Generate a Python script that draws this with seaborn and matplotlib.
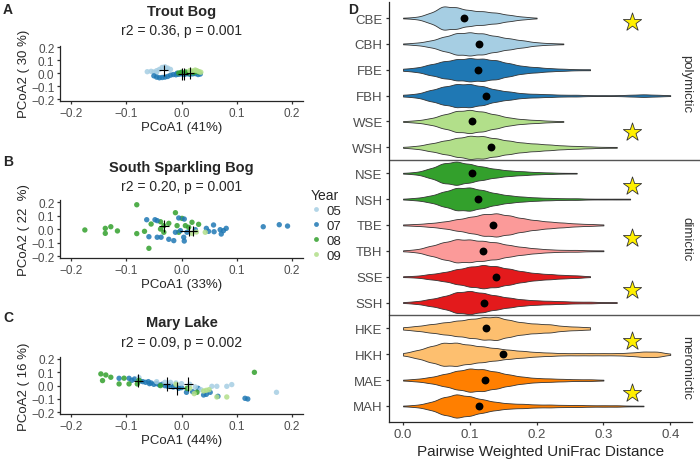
import numpy as np
import pandas as pd
import matplotlib
matplotlib.use("Agg")
import matplotlib.pyplot as plt
import seaborn as sns

# Data =====================================================================================
years = ["05", "07", "08", "09"]
year_colors = {"05": "#A6CEE3", "07": "#1F78B4", "08": "#33A02C", "09": "#B2DF8A"}

# A - Trout Bog PCoA
a_x = [-0.062, -0.055, -0.05, -0.045, -0.04, -0.035, -0.03, -0.025, -0.02, -0.028, -0.045,
       -0.05, -0.045, -0.04, -0.035, -0.03, -0.025, -0.02, -0.015, -0.01, -0.005, 0.0, 0.005,
       0.01, 0.015, 0.02, 0.025, 0.03, 0.034, -0.008, 0.0,
       0.0, 0.008, 0.012, 0.018, 0.022, 0.025, 0.03, -0.005,
       0.015, 0.02, 0.028, 0.032, 0.035, 0.025]
a_y = [0.012, 0.015, 0.01, 0.02, 0.03, 0.045, 0.05, 0.04, 0.03, 0.035, 0.005,
       -0.02, -0.03, -0.035, -0.033, -0.03, -0.025, -0.015, -0.01, -0.012, -0.008, -0.005, -0.01,
       -0.004, -0.008, -0.005, -0.003, -0.01, -0.006, 0.0, 0.005,
       0.008, 0.01, 0.003, 0.012, 0.005, 0.015, 0.01, 0.002,
       0.02, 0.018, 0.02, 0.012, 0.008, 0.025]
a_year = ["05"] * 11 + ["07"] * 20 + ["08"] * 8 + ["09"] * 6
a_cx = [-0.032, 0.001, 0.005, 0.016]
a_cy = [0.022, -0.004, -0.004, 0.0]
a_xerr = [0.008, 0.007, 0.007, 0.007]
a_yerr = [0.045, 0.045, 0.045, 0.045]

# B - South Sparkling Bog PCoA
b_x = [-0.081, -0.175, -0.138, -0.128, -0.138, -0.116, -0.081, -0.067, -0.059, -0.055, -0.038,
       -0.032, -0.023, -0.038, -0.032, -0.011, -0.008, 0.001, 0.007, 0.019, 0.031, -0.005, 0.013,
       -0.063, -0.048, -0.044, -0.059, -0.044, -0.037, -0.023, -0.014, -0.005, 0.005, -0.011,
       -0.002, 0.004, 0.005, 0.010, 0.025, 0.045, 0.049, 0.058, 0.059, 0.070, 0.072, 0.076,
       0.081, 0.148, 0.177, 0.192,
       0.043, 0.027, 0.019]
b_y = [0.182, -0.005, 0.007, 0.019, -0.03, -0.012, -0.032, -0.015, -0.141, 0.039, 0.056,
       0.027, 0.044, 0.002, -0.022, 0.123, 0.027, 0.081, 0.027, 0.052, 0.037, -0.022, 0.015,
       0.071, 0.071, 0.064, -0.055, -0.059, -0.059, -0.074, -0.084, 0.084, 0.076, -0.022,
       -0.01, -0.059, -0.087, -0.022, -0.003, 0.007, -0.015, 0.032, -0.018, -0.003, -0.035, -0.01,
       0.007, 0.019, 0.034, 0.024,
       -0.022, -0.02, -0.03]
b_year = ["08"] * 23 + ["07"] * 27 + ["09"] * 3
b_cx = [0.013, -0.032, 0.02]
b_cy = [-0.01, 0.025, -0.012]
b_xerr = [0.015, 0.009, 0.008]
b_yerr = [0.038, 0.043, 0.035]

# C - Mary Lake PCoA
c_x = [-0.113, -0.095, -0.09, -0.085, -0.075, -0.07, -0.065, -0.06, -0.058, -0.055, -0.05,
       -0.045, -0.04, -0.035, -0.03, -0.025, -0.02, -0.015, -0.01, 0.009, 0.02, 0.03, 0.04,
       0.045, 0.052, 0.066, 0.115, 0.12, -0.005, 0.0,
       -0.077, -0.045, -0.03, -0.02, -0.01, 0.0, 0.015, 0.025, 0.055, 0.064, 0.082, 0.091,
       0.172, 0.035,
       -0.146, -0.137, -0.128, -0.143, -0.113, -0.104, -0.095, -0.08, -0.077, 0.132, 0.01,
       0.028, -0.038,
       0.04, 0.045, 0.05, 0.023, 0.064, 0.082, -0.01, 0.015]
c_y = [0.055, 0.055, 0.04, 0.05, 0.035, 0.03, 0.025, 0.03, 0.015, 0.02, 0.01,
       0.015, 0.005, 0.01, 0.0, -0.005, 0.005, -0.01, -0.005, -0.05, -0.045, -0.02, -0.07,
       -0.065, -0.05, -0.08, -0.095, -0.1, -0.02, -0.015,
       0.06, 0.03, 0.025, 0.025, 0.02, 0.015, 0.01, -0.01, -0.005, -0.005, -0.005, 0.008,
       -0.05, -0.03,
       0.088, 0.08, 0.063, 0.038, 0.013, 0.056, 0.013, 0.013, 0.04, 0.1, -0.02,
       -0.05, 0.0,
       -0.04, -0.035, -0.03, -0.06, -0.085, -0.085, 0.01, -0.02]
c_year = ["07"] * 30 + ["05"] * 14 + ["08"] * 13 + ["09"] * 8
c_cx = [-0.078, -0.027, -0.009, 0.012]
c_cy = [0.038, 0.013, -0.02, 0.013]
c_xerr = [0.008, 0.007, 0.015, 0.008]
c_yerr = [0.05, 0.05, 0.05, 0.05]

# D - pairwise weighted UniFrac distances (counts per 0.02 bin)
sites = ["CBE", "CBH", "FBE", "FBH", "WSE", "WSH",
         "NSE", "NSH", "TBE", "TBH", "SSE", "SSH",
         "HKE", "HKH", "MAE", "MAH"]
mixing = ["polymictic", "dimictic", "meromictic"]
site_colors = {"CBE": "#A6CEE3", "CBH": "#A6CEE3", "FBE": "#1F78B4", "FBH": "#1F78B4",
               "WSE": "#B2DF8A", "WSH": "#B2DF8A", "NSE": "#33A02C", "NSH": "#33A02C",
               "TBE": "#FB9A99", "TBH": "#FB9A99", "SSE": "#E31A1C", "SSH": "#E31A1C",
               "HKE": "#FDBF6F", "HKH": "#FDBF6F", "MAE": "#FF7F00", "MAH": "#FF7F00"}
dist_bins = [0.00, 0.02, 0.04, 0.06, 0.08, 0.10, 0.12, 0.14, 0.16, 0.18, 0.20,
             0.22, 0.24, 0.26, 0.28, 0.30, 0.32, 0.34, 0.36, 0.38, 0.40, 0.42]
dist_counts = {
    "CBE": [1, 3, 14, 36, 32, 23, 20, 16, 9, 4, 1],
    "CBH": [1, 3, 8, 18, 28, 30, 27, 20, 14, 9, 4, 2, 1],
    "FBE": [2, 4, 10, 16, 20, 22, 21, 18, 12, 7, 5, 3, 2, 1, 1],
    "FBH": [2, 4, 12, 20, 26, 26, 21, 13, 9, 5, 4, 3, 2, 2, 1, 1, 1, 2, 3, 2, 1],
    "WSE": [1, 3, 8, 18, 28, 31, 26, 18, 10, 6, 4, 2, 1],
    "WSH": [1, 3, 8, 14, 20, 25, 24, 19, 14, 10, 8, 6, 4, 3, 2, 1, 1],
    "NSE": [1, 3, 12, 26, 31, 24, 17, 11, 7, 5, 3, 2, 1, 1],
    "NSH": [1, 3, 8, 18, 28, 29, 22, 14, 9, 6, 4, 3, 2, 2, 1, 1, 1, 1],
    "TBE": [1, 2, 4, 7, 12, 17, 23, 25, 20, 14, 10, 7, 5, 3, 2, 1],
    "TBH": [1, 3, 10, 18, 25, 24, 21, 18, 12, 8, 5, 3, 2, 2, 1, 1],
    "SSE": [1, 2, 6, 10, 17, 23, 27, 24, 18, 12, 8, 6, 4, 3, 1],
    "SSH": [1, 3, 8, 14, 24, 27, 22, 16, 11, 7, 5, 4, 3, 2, 2, 1, 1],
    "HKE": [2, 4, 7, 10, 13, 16, 19, 20, 14, 10, 8, 7, 4, 3, 2],
    "HKH": [2, 7, 14, 21, 21, 17, 14, 11, 8, 6, 4, 3, 2, 2, 2, 2, 2, 3, 5, 5, 1],
    "MAE": [1, 3, 7, 14, 22, 28, 26, 20, 13, 8, 5, 4, 3, 2, 2, 1],
    "MAH": [1, 3, 10, 24, 33, 27, 18, 11, 7, 6, 4, 4, 3, 3, 2, 2, 2, 1, 1],
}
dist_means = [0.091, 0.113, 0.112, 0.124, 0.104, 0.132,
              0.104, 0.112, 0.135, 0.119, 0.139, 0.121,
              0.124, 0.150, 0.122, 0.114]
# significant lake pairs (row position of star)
star_rows = [0.15, 4.4, 6.5, 8.5, 10.5, 12.5, 14.5]
star_value = 0.343
kde_bw = 0.0095  # fixed kernel width, in distance units

# Style ====================================================================================
sns.set_theme(style="ticks")
plt.rcParams["font.family"] = ["Liberation Sans", "DejaVu Sans"]
plt.rcParams["axes.linewidth"] = 0.9
plt.rcParams["xtick.major.width"] = 0.9
plt.rcParams["ytick.major.width"] = 0.9
plt.rcParams["xtick.major.size"] = 2.5
plt.rcParams["ytick.major.size"] = 2.5
plt.rcParams["xtick.color"] = "#333333"
plt.rcParams["ytick.color"] = "#333333"
plt.rcParams["xtick.labelcolor"] = "#4d4d4d"
plt.rcParams["ytick.labelcolor"] = "#4d4d4d"

W, H = 700, 464
fig = plt.figure(figsize=(7, 4.64), dpi=100)


def rect(left, top, right, bottom):
    return [left / W, 1 - bottom / H, (right - left) / W, (bottom - top) / H]


def pcoa_panel(box, xs, ys, yrs, cx, cy, xerr, yerr, xlab, ylab, show_legend=False):
    ax = fig.add_axes(box)
    df = pd.DataFrame({"x": xs, "y": ys, "Year": yrs})
    sns.scatterplot(data=df, x="x", y="y", hue="Year", hue_order=years, palette=year_colors,
                    s=15, alpha=0.85, linewidth=0, ax=ax, legend=show_legend)
    ax.errorbar(cx, cy, xerr=xerr, yerr=yerr, fmt="none", ecolor="black", elinewidth=0.8)
    ax.set_xlim(-0.22, 0.22)
    ax.set_ylim(-0.215, 0.215)
    ax.set_xticks([-0.2, -0.1, 0.0, 0.1, 0.2])
    ax.set_yticks([-0.2, -0.1, 0.0, 0.1, 0.2])
    ax.tick_params(labelsize=8.5, pad=1.5)
    ax.set_xlabel(xlab, fontsize=9.5, labelpad=1.5)
    ax.set_ylabel(ylab, fontsize=9.5, labelpad=1)
    sns.despine(ax=ax)
    return ax


ax_a = pcoa_panel(rect(60, 46.5, 303, 102), a_x, a_y, a_year, a_cx, a_cy, a_xerr, a_yerr,
                  "PCoA1 (41%)", "PCoA2 ( 30 %)", show_legend=True)
ax_b = pcoa_panel(rect(60, 201.3, 303, 259.3), b_x, b_y, b_year, b_cx, b_cy, b_xerr, b_yerr,
                  "PCoA1 (33%)", "PCoA2 ( 22  %)")
ax_c = pcoa_panel(rect(60, 358, 303, 415.3), c_x, c_y, c_year, c_cx, c_cy, c_xerr, c_yerr,
                  "PCoA1 (44%)", "PCoA2 ( 16 %)")

handles, labels = ax_a.get_legend_handles_labels()
ax_a.get_legend().remove()
fig.legend(handles, labels, title="Year", loc="upper left", bbox_to_anchor=(311 / W, 1 - 189 / H),
           frameon=False, fontsize=9.5, title_fontsize=10, handletextpad=0.4, handlelength=0.8,
           labelspacing=0.2, borderaxespad=0, borderpad=0, markerscale=0.9, alignment="left")

titles = [("Trout Bog", "r2 = 0.36, p = 0.001", 12, 31),
          ("South Sparkling Bog", "r2 = 0.20, p = 0.001", 168, 187),
          ("Mary Lake", "r2 = 0.09, p = 0.002", 323, 343)]
for name, stat, ty, sy in titles:
    fig.text(181.5 / W, 1 - ty / H, name, ha="center", va="center", fontsize=10.5, fontweight="bold")
    fig.text(181.5 / W, 1 - sy / H, stat, ha="center", va="center", fontsize=10)

for letter, lx, ly in [("A", 3, 10), ("B", 3, 162), ("C", 3, 318), ("D", 348, 10)]:
    fig.text(lx / W, 1 - ly / H, letter, ha="left", va="center", fontsize=10, fontweight="bold")

# D - violins ==============================================================================
rows = []
for i, site in enumerate(sites):
    counts = dist_counts[site]
    vals = np.repeat(dist_bins[:len(counts)], counts)
    rows.append(pd.DataFrame({"distance": vals, "row": i, "site": site}))
dist_df = pd.concat(rows, ignore_index=True)

ax_d = fig.add_axes(rect(389, 3.5, 692, 422.5))
sns.violinplot(data=dist_df, x="distance", y="row", hue="site", hue_order=sites,
               palette=site_colors, orient="h", native_scale=True, dodge=False, cut=0,
               inner=None, density_norm="area", width=0.9, linewidth=0.6,
               linecolor="#333333", saturation=1, legend=False, ax=ax_d,
               bw_method=lambda k: kde_bw / np.sqrt(np.cov(k.dataset[0], aweights=k.weights)))
sns.scatterplot(x=dist_means, y=list(range(len(sites))), color="black", s=32,
                linewidth=0, zorder=5, ax=ax_d)
sns.scatterplot(x=[star_value] * len(star_rows), y=star_rows, marker="*", color="#FFEF00",
                edgecolor="#333333", linewidth=0.6, s=190, zorder=5, ax=ax_d)

ax_d.set_xlim(-0.021, 0.4326)
ax_d.set_ylim(len(sites) - 0.4, -0.6)
ax_d.set_yticks(range(len(sites)))
ax_d.set_yticklabels(sites)
ax_d.set_xticks([0.0, 0.1, 0.2, 0.3, 0.4])
ax_d.set_xticklabels(["0.0", "0.1", "0.2", "0.3", "0.4"])
ax_d.tick_params(axis="both", labelsize=9.5, pad=2)
ax_d.set_ylabel("")
ax_d.set_xlabel("Pairwise Weighted UniFrac Distance", fontsize=11, labelpad=3)
sns.despine(ax=ax_d)

for sep in [5.5, 11.5]:
    ax_d.plot([0, (W - 389) / 303], [sep, sep], color="#555555", lw=1.0,
              transform=ax_d.get_yaxis_transform(), clip_on=False)
for label, center in zip(mixing, [2.5, 8.5, 13.5]):
    ax_d.text(0.982, center, label, rotation=-90, ha="center", va="center", fontsize=9.5,
              color="#333333", transform=ax_d.get_yaxis_transform())

fig.savefig("out.png", dpi=100)
